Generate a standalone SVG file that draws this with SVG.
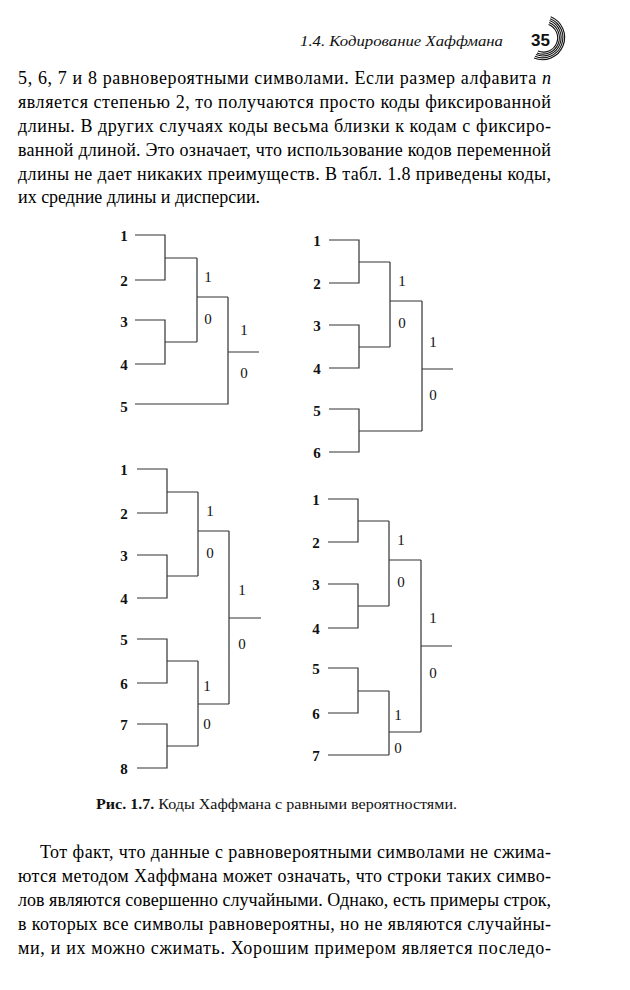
<svg xmlns="http://www.w3.org/2000/svg" width="630" height="990" viewBox="0 0 630 990">
<style>
.body{font-size:18px;fill:#000}
.hdr{font-size:15px;font-style:italic;fill:#111}
.pg{font-size:17px;font-weight:bold;fill:#111}
.cap{font-size:14px;fill:#111}
.leaf{font-size:15px;font-weight:bold;fill:#111;text-anchor:middle}
.bl{font-size:15px;fill:#111;text-anchor:middle}
.edge{fill:none;stroke:#333;stroke-width:1.2}
.arc{fill:none;stroke:#111;stroke-width:1.1}
</style>
<rect width="630" height="990" fill="#fff"/>

<g id="header" font-family="'Liberation Serif', 'Times New Roman', 'DejaVu Serif', serif">
<text class="hdr" x="300" y="46" textLength="203" lengthAdjust="spacingAndGlyphs">1.4. Кодирование Хаффмана</text>
<text class="pg" x="531" y="46" font-family="'Liberation Sans', Arial, sans-serif">35</text>
<g class="arc">
<path d="M548.6,24.5 A14,14 0 1 1 538,51.1"/>
<path d="M549.1,22.6 A16,16 0 1 1 537,52.9"/>
<path d="M549.6,20.6 A18,18 0 1 1 536,54.6"/>
<path d="M550.2,18.7 A20,20 0 1 1 535,56.3"/>
<path d="M550.7,16.8 A22,22 0 1 1 534,58.1"/>
</g>
</g>

<g id="top-text" class="body" font-family="'Liberation Serif', 'Times New Roman', 'DejaVu Serif', serif">
<text x="18" y="84" textLength="533" lengthAdjust="spacing">5, 6, 7 и 8 равновероятными символами. Если размер алфавита <tspan font-style="italic">n</tspan></text>
<text x="18" y="108" textLength="533" lengthAdjust="spacing">является степенью 2, то получаются просто коды фиксированной</text>
<text x="18" y="132" textLength="533" lengthAdjust="spacing">длины. В других случаях коды весьма близки к кодам с фиксиро-</text>
<text x="18" y="156" textLength="533" lengthAdjust="spacing">ванной длиной. Это означает, что использование кодов переменной</text>
<text x="18" y="180" textLength="533" lengthAdjust="spacing">длины не дает никаких преимуществ. В табл. 1.8 приведены коды,</text>
<text x="18" y="203">их средние длины и дисперсии.</text>
</g>

<g id="connectors" class="edge">
<path d="M135,235H165V280H135M165,258H197M135,320H165V364H135M165,342H197M197,258V342M197,297H228M135,404H228V297M228,352H259"/>
<path d="M329,240H359V283H329M359,262H390M329,325H359V368H329M359,347H390M390,262V347M390,301H422M329,409H359V452H329M359,431H422M422,301V431M422,369H453"/>
<path d="M137,469H167V513H137M167,492H198M137,555H167V598H137M167,576H198M198,492V576M198,531H229M137,639H167V683H137M167,661H198M137,724H167V768H137M167,746H198M198,661V746M198,704H229M229,531V704M229,618H261"/>
<path d="M328,499H358V542H328M358,521H389M328,584H358V628H328M358,606H389M389,521V606M389,560H421M328,668H358V713H328M358,691H389M328,755H389M389,691V755M389,732H421M421,560V732M421,646H452"/>
</g>

<g id="trees" font-family="'Liberation Serif', 'Times New Roman', 'DejaVu Serif', serif">
<g id="tree1">
<g id="t1-n1"><text class="leaf" x="124" y="241">1</text></g>
<g id="t1-n2"><text class="leaf" x="124" y="286">2</text></g>
<g id="t1-n3"><text class="leaf" x="124" y="327">3</text></g>
<g id="t1-n4"><text class="leaf" x="124" y="370">4</text></g>
<g id="t1-n5"><text class="leaf" x="124" y="412">5</text></g>
<g id="t1-labels">
<text class="bl" x="208" y="282">1</text><text class="bl" x="208" y="324">0</text>
<text class="bl" x="244" y="335">1</text><text class="bl" x="244" y="378">0</text>
</g>
</g>

<g id="tree2">
<g id="t2-n1"><text class="leaf" x="317" y="246">1</text></g>
<g id="t2-n2"><text class="leaf" x="317" y="289">2</text></g>
<g id="t2-n3"><text class="leaf" x="317" y="331">3</text></g>
<g id="t2-n4"><text class="leaf" x="317" y="374">4</text></g>
<g id="t2-n5"><text class="leaf" x="317" y="416">5</text></g>
<g id="t2-n6"><text class="leaf" x="317" y="458">6</text></g>
<g id="t2-labels">
<text class="bl" x="402" y="286">1</text><text class="bl" x="402" y="328">0</text>
<text class="bl" x="433" y="347">1</text><text class="bl" x="433" y="400">0</text>
</g>
</g>

<g id="tree3">
<g id="t3-n1"><text class="leaf" x="124" y="475">1</text></g>
<g id="t3-n2"><text class="leaf" x="124" y="519">2</text></g>
<g id="t3-n3"><text class="leaf" x="124" y="561">3</text></g>
<g id="t3-n4"><text class="leaf" x="124" y="604">4</text></g>
<g id="t3-n5"><text class="leaf" x="124" y="645">5</text></g>
<g id="t3-n6"><text class="leaf" x="124" y="689">6</text></g>
<g id="t3-n7"><text class="leaf" x="124" y="730">7</text></g>
<g id="t3-n8"><text class="leaf" x="124" y="774">8</text></g>
<g id="t3-labels">
<text class="bl" x="210" y="516">1</text><text class="bl" x="210" y="558">0</text>
<text class="bl" x="207" y="691">1</text><text class="bl" x="207" y="729">0</text>
<text class="bl" x="242" y="595">1</text><text class="bl" x="242" y="649">0</text>
</g>
</g>

<g id="tree4">
<g id="t4-n1"><text class="leaf" x="316" y="505">1</text></g>
<g id="t4-n2"><text class="leaf" x="316" y="548">2</text></g>
<g id="t4-n3"><text class="leaf" x="316" y="590">3</text></g>
<g id="t4-n4"><text class="leaf" x="316" y="634">4</text></g>
<g id="t4-n5"><text class="leaf" x="316" y="674">5</text></g>
<g id="t4-n6"><text class="leaf" x="316" y="719">6</text></g>
<g id="t4-n7"><text class="leaf" x="316" y="761">7</text></g>
<g id="t4-labels">
<text class="bl" x="401" y="545">1</text><text class="bl" x="401" y="587">0</text>
<text class="bl" x="398" y="720">1</text><text class="bl" x="398" y="753">0</text>
<text class="bl" x="433" y="623">1</text><text class="bl" x="433" y="678">0</text>
</g>
</g>
</g>

<g id="caption" font-family="'Liberation Serif', 'Times New Roman', 'DejaVu Serif', serif">
<text class="cap" x="96" y="809" textLength="361" lengthAdjust="spacingAndGlyphs"><tspan font-weight="bold">Рис. 1.7.</tspan> Коды Хаффмана с равными вероятностями.</text>
</g>

<g id="bottom-text" class="body" font-family="'Liberation Serif', 'Times New Roman', 'DejaVu Serif', serif">
<text x="40" y="858" textLength="511" lengthAdjust="spacing">Тот факт, что данные с равновероятными символами не сжима-</text>
<text x="18" y="882" textLength="533" lengthAdjust="spacing">ются методом Хаффмана может означать, что строки таких симво-</text>
<text x="18" y="906" textLength="533" lengthAdjust="spacing">лов являются совершенно случайными. Однако, есть примеры строк,</text>
<text x="18" y="930" textLength="533" lengthAdjust="spacing">в которых все символы равновероятны, но не являются случайны-</text>
<text x="18" y="954" textLength="533" lengthAdjust="spacing">ми, и их можно сжимать. Хорошим примером является последо-</text>
</g>
</svg>
